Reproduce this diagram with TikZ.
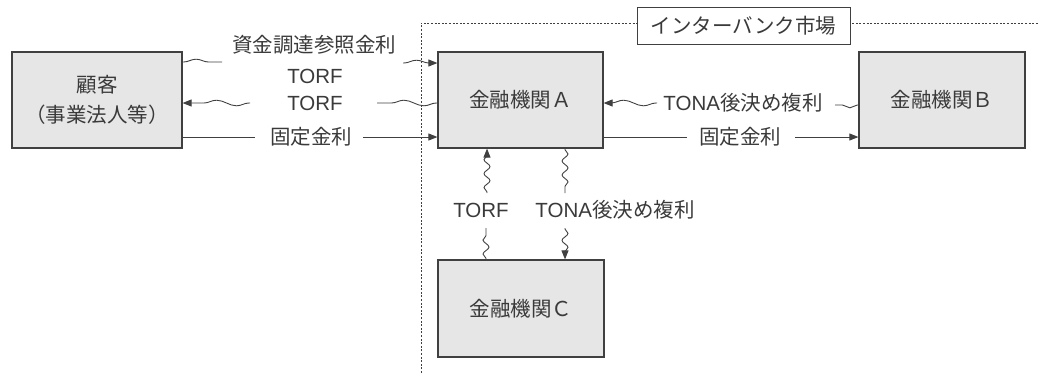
\documentclass[tikz,border=0pt]{standalone}
\usepackage{fontspec}
\setmainfont{Noto Sans CJK JP}
\newfontfamily\lat{Liberation Sans}
\usetikzlibrary{decorations.pathmorphing,arrows.meta}
\definecolor{txt}{HTML}{3A3A3A}
\definecolor{ln}{HTML}{404040}
\definecolor{boxfill}{HTML}{E6E6E6}
\begin{document}
\begin{tikzpicture}[x=1pt,y=-1pt,
  every node/.style={font=\fontsize{20.5}{23}\selectfont, text=txt},
  party/.style={draw=ln, line width=1.2pt, fill=boxfill, inner sep=0pt},
  lbl/.style={inner sep=1pt},
  conn/.style={draw=ln, line width=0.9pt},
  tip/.style={-{Triangle[length=9pt,width=7pt]}},
  hwave/.style={conn, decorate, decoration={snake, amplitude=2.8pt, segment length=#1, post length=2pt, pre length=1pt}},
  hwave/.default=40pt,
  vwave/.style={conn, decorate, decoration={snake, amplitude=3pt, segment length=14pt, post length=2pt, pre length=1pt}},
  market/.style={dash pattern=on 2pt off 1.6pt, draw=ln, line width=0.8pt}]
\useasboundingbox (0,0) rectangle (1038,376);
% interbank market region
\draw[market] (421,373) -- (421,23) -- (1038,23);
\node[draw=ln, line width=1pt, fill=white, minimum width=213pt, minimum height=37pt, inner sep=0pt] (mkt) at (743.5,26) {インターバンク市場};
% parties
\node[party, minimum width=170pt, minimum height=96pt, align=center] (cust) at (97,100) {顧客\\[7pt]（事業法人等）};
\node[party, minimum width=165pt, minimum height=96pt] (A) at (520.5,100) {金融機関Ａ};
\node[party, minimum width=166pt, minimum height=96pt] (B) at (942,100) {金融機関Ｂ};
\node[party, minimum width=166pt, minimum height=97pt] (C) at (521,308.5) {金融機関Ｃ};
% labels
\node[lbl] (l1) at (314,45) {資金調達参照金利};
\node[lbl] (l2) at (315,76) {\lat TORF};
\node[lbl] (l3) at (315,103) {\lat TORF};
\node[lbl] (l4) at (311,137) {固定金利};
\node[lbl] (l5) at (743,103) {{\lat TONA}後決め複利};
\node[lbl] (l6) at (740,137) {固定金利};
\node[lbl] (l7) at (481,210) {\lat TORF};
\node[lbl] (l8) at (615,210) {{\lat TONA}後決め複利};
% free ends
\coordinate (e1a) at (222,62);
\coordinate (e1b) at (403,63);
\coordinate (e2a) at (250,103);
\coordinate (e2b) at (377,103);
\coordinate (e3a) at (255,137);
\coordinate (e3b) at (363,137);
\coordinate (e4a) at (835,105);
\coordinate (e4b) at (657,103);
\coordinate (e5a) at (687,137);
\coordinate (e5b) at (795,137);
\coordinate (e6a) at (486,228);
\coordinate (e6b) at (487,193);
\coordinate (e7a) at (565,193);
\coordinate (e7b) at (565,228);
% customer <-> A
\draw[hwave] (cust.east |- e1a) -- (e1a);
\draw[hwave, tip] (e1b) -- (A.west |- e1b);
\draw[hwave, tip] (e2a) -- (cust.east |- e2a);
\draw[hwave] (A.west |- e2b) -- (e2b);
\draw[conn] (cust.east |- e3a) -- (e3a);
\draw[conn, tip] (e3b) -- (A.west |- e3b);
% B <-> A
\draw[hwave=24pt] (B.west |- e4a) -- (e4a);
\draw[hwave=40pt, tip] (e4b) -- (A.east |- e4b);
\draw[conn] (A.east |- e5a) -- (e5a);
\draw[conn, tip] (e5b) -- (B.west |- e5b);
% C <-> A
\draw[vwave] (C.north -| e6a) -- (e6a);
\draw[vwave, tip] (e6b) -- (A.south -| e6b);
\draw[vwave] (A.south -| e7a) -- (e7a);
\draw[vwave, tip] (e7b) -- (C.north -| e7b);
\end{tikzpicture}
\end{document}
